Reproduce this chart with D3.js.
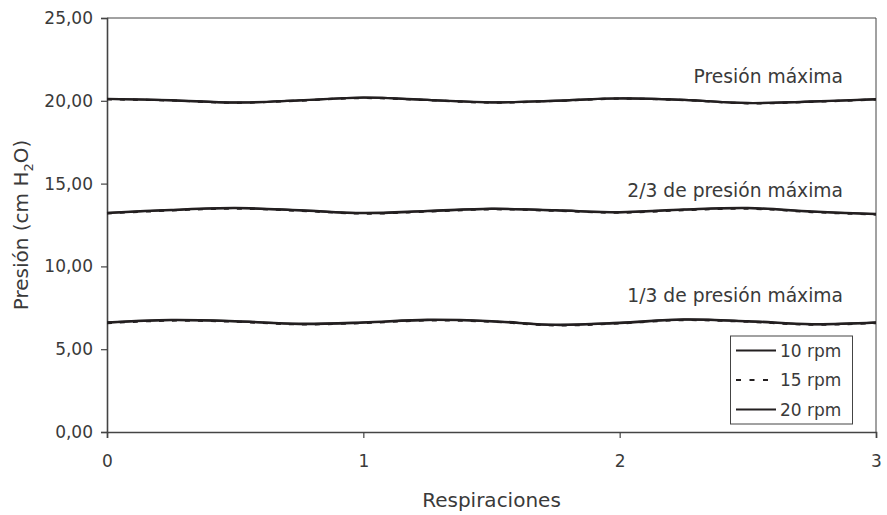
<!DOCTYPE html>
<html>
<head>
<meta charset="utf-8">
<script src="https://cdn.jsdelivr.net/npm/d3@7"></script>
<style>
  html, body { margin: 0; padding: 0; background: #fff; }
  svg { display: block; }
  text { font-family: "DejaVu Sans", sans-serif; fill: #3a3a3a; }
</style>
</head>
<body>
<svg id="chart" width="887" height="515"></svg>
<script>
// ---- data ----
const respiraciones = [0, 0.25, 0.5, 0.75, 1, 1.25, 1.5, 1.75, 2, 2.25, 2.5, 2.75, 3];
const seriesNames = ["10 rpm", "15 rpm", "20 rpm"];
const xTicks = [0, 1, 2, 3];
const yTicks = [0, 5, 10, 15, 20, 25];
const levelLabels = ["Presión máxima", "2/3 de presión máxima", "1/3 de presión máxima"];
const levelLabelValues = [21.06, 14.21, 7.85];

// presión máxima
const max10 = [20.11, 20.03, 19.89, 20.02, 20.19, 20.05, 19.90, 20.00, 20.14, 20.05, 19.86, 19.95, 20.09];
const max15 = [20.09, 20.02, 19.88, 20.01, 20.17, 20.04, 19.89, 19.99, 20.13, 20.04, 19.85, 19.94, 20.08];
const max20 = [20.12, 20.04, 19.90, 20.03, 20.20, 20.06, 19.91, 20.01, 20.15, 20.06, 19.87, 19.96, 20.10];
// 2/3 de presión máxima
const mid10 = [13.22, 13.40, 13.51, 13.38, 13.21, 13.33, 13.47, 13.38, 13.26, 13.42, 13.51, 13.30, 13.15];
const mid15 = [13.20, 13.38, 13.49, 13.36, 13.19, 13.31, 13.45, 13.36, 13.24, 13.40, 13.49, 13.28, 13.13];
const mid20 = [13.24, 13.42, 13.53, 13.40, 13.23, 13.35, 13.49, 13.40, 13.28, 13.44, 13.53, 13.32, 13.17];
// 1/3 de presión máxima
const low10 = [6.60, 6.75, 6.68, 6.52, 6.60, 6.76, 6.68, 6.46, 6.58, 6.78, 6.68, 6.50, 6.60];
const low15 = [6.58, 6.73, 6.66, 6.50, 6.58, 6.74, 6.66, 6.44, 6.56, 6.76, 6.66, 6.48, 6.58];
const low20 = [6.62, 6.77, 6.70, 6.54, 6.62, 6.78, 6.70, 6.48, 6.60, 6.80, 6.70, 6.52, 6.62];

const seriesData = [
  { name: seriesNames[0], levels: [max10, mid10, low10], dash: null },
  { name: seriesNames[1], levels: [max15, mid15, low15], dash: "5,8" },
  { name: seriesNames[2], levels: [max20, mid20, low20], dash: null }
];

// ---- layout ----
const svg = d3.select("#chart");
const margin = { left: 107, top: 18, right: 887 - 876, bottom: 515 - 432 };
const W = 887 - margin.left - margin.right;
const H = 515 - margin.top - margin.bottom;
const x = d3.scaleLinear().domain([0, 3]).range([0, W]);
const y = d3.scaleLinear().domain([0, 25]).range([H, 0]);
const g = svg.append("g").attr("transform", `translate(${margin.left},${margin.top})`);
const ink = "#231f20";
const fmt = d => d3.format(".2f")(d).replace(".", ",");

// frame (top & right)
g.append("line").attr("x1", 0).attr("x2", W).attr("y1", 0).attr("y2", 0)
  .attr("stroke", "#444").attr("stroke-width", 1);
g.append("line").attr("x1", W).attr("x2", W).attr("y1", 0).attr("y2", H)
  .attr("stroke", "#444").attr("stroke-width", 1);

// axes
const yAxis = g.append("g").call(d3.axisLeft(y).tickValues(yTicks).tickFormat(fmt).tickSize(6).tickPadding(8));
const xAxis = g.append("g").attr("transform", `translate(0,${H})`)
  .call(d3.axisBottom(x).tickValues(xTicks).tickFormat(d3.format("d")).tickSize(6).tickPadding(17));
[yAxis, xAxis].forEach(a => {
  a.select(".domain").attr("stroke", "#444").attr("stroke-width", 1.6);
  a.selectAll(".tick line").attr("stroke", "#444").attr("stroke-width", 1.2);
  a.selectAll(".tick text").attr("font-size", 17).attr("fill", "#3a3a3a")
    .attr("font-family", "DejaVu Sans, sans-serif");
});

// lines
const line = d3.line().x((d, i) => x(respiraciones[i])).y(d => y(d)).curve(d3.curveCatmullRom);
seriesData.forEach(s => {
  s.levels.forEach(vals => {
    g.append("path").datum(vals).attr("d", line)
      .attr("fill", "none").attr("stroke", ink).attr("stroke-width", 2.2)
      .attr("stroke-dasharray", s.dash);
  });
});

// level labels
levelLabels.forEach((t, i) => {
  g.append("text").attr("x", 843 - margin.left).attr("y", y(levelLabelValues[i]))
    .attr("text-anchor", "end").attr("font-size", 18.7).text(t);
});

// axis titles
const yt = svg.append("text")
  .attr("transform", `translate(28,${margin.top + H / 2}) rotate(-90)`)
  .attr("text-anchor", "middle").attr("font-size", 20);
yt.append("tspan").text("Presión (cm H");
yt.append("tspan").attr("font-size", 13).attr("dy", 5).text("2");
yt.append("tspan").attr("dy", -5).text("O)");

svg.append("text").attr("x", margin.left + W / 2).attr("y", 507)
  .attr("text-anchor", "middle").attr("font-size", 20).text("Respiraciones");

// legend
const lg = svg.append("g").attr("transform", "translate(730,335.5)");
lg.append("rect").attr("x", 0.5).attr("y", 0.5).attr("width", 122).attr("height", 88)
  .attr("fill", "#fff").attr("stroke", "#444").attr("stroke-width", 1);
seriesData.forEach((s, i) => {
  const yy = 15 + i * 29.5;
  lg.append("line").attr("x1", 6).attr("x2", 46).attr("y1", yy).attr("y2", yy)
    .attr("stroke", ink).attr("stroke-width", 2.2).attr("stroke-dasharray", s.dash ? "5,8.5" : null);
  lg.append("text").attr("x", 50).attr("y", yy + 6).attr("font-size", 17).text(s.name);
});
</script>
</body>
</html>
